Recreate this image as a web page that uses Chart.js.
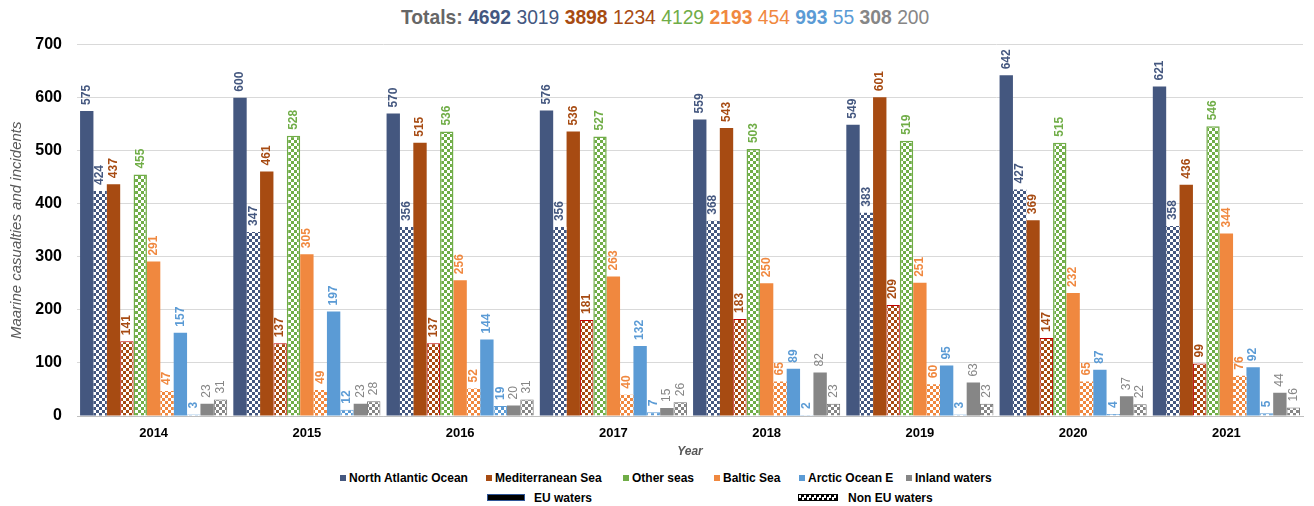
<!DOCTYPE html>
<html>
<head>
<meta charset="utf-8">
<script src="https://cdn.jsdelivr.net/npm/chart.js@4"></script>
<style>
  body { margin: 0; background: #fff; font-family: "Liberation Sans", Arial, sans-serif; }
  #wrap { position: relative; width: 1314px; height: 506px; overflow: hidden; }
  #title { position: absolute; left: 401px; top: 6px; font-size: 19.3px; line-height: 24px; white-space: nowrap; color: #666; }
  #title b { font-weight: bold; }
  #chart { position: absolute; left: 0; top: 20px; }
  .leg { position: absolute; font-size: 12px; font-weight: bold; color: #000; white-space: nowrap; line-height: 14px; }
  .sw { display: inline-block; width: 6px; height: 6px; margin-right: 3px; vertical-align: 1px; }
</style>
</head>
<body>
<div id="wrap">
  <div id="title"></div>
  <canvas id="chart" width="1314" height="442"></canvas>
  <div id="legend"></div>
</div>
<script>
// values
const years = ['2014', '2015', '2016', '2017', '2018', '2019', '2020', '2021'];
const naEU = [575, 600, 570, 576, 559, 549, 642, 621];
const naNon = [424, 347, 356, 356, 368, 383, 427, 358];
const medEU = [437, 461, 515, 536, 543, 601, 369, 436];
const medNon = [141, 137, 137, 181, 183, 209, 147, 99];
const otherSeas = [455, 528, 536, 527, 503, 519, 515, 546];
const balticEU = [291, 305, 256, 263, 250, 251, 232, 344];
const balticNon = [47, 49, 52, 40, 65, 60, 65, 76];
const arcticEU = [157, 197, 144, 132, 89, 95, 87, 92];
const arcticNon = [3, 12, 19, 7, 2, 3, 4, 5];
const inlandEU = [23, 23, 20, 15, 82, 63, 37, 44];
const inlandNon = [31, 28, 31, 26, 23, 23, 22, 16];
const totals = [4692, 3019, 3898, 1234, 4129, 2193, 454, 993, 55, 308, 200];
const totalsBold = [true, false, true, false, false, true, false, true, false, true, false];

const seaNames = ['North Atlantic Ocean', 'Mediterranean Sea', 'Other seas', 'Baltic Sea', 'Arctic Ocean E', 'Inland waters'];
const seaColors = ['#44577f', '#a74b12', '#70ad47', '#f0883f', '#5b9bd5', '#868686'];
const totalColors = ['#44577f', '#44577f', '#a74b12', '#a74b12', '#70ad47', '#f0883f', '#f0883f', '#5b9bd5', '#5b9bd5', '#868686', '#868686'];

function checker(color) {
    const c = document.createElement('canvas');
    c.width = 6; c.height = 6;
    const g = c.getContext('2d');
    g.fillStyle = '#fff';
    g.fillRect(0, 0, 6, 6);
    g.fillStyle = color;
    g.fillRect(0, 0, 3, 3);
    g.fillRect(3, 3, 3, 3);
    return g.createPattern(c, 'repeat');
}

// title
const titleEl = document.getElementById('title');
let html = '<b>Totals:</b>';
totals.forEach((t, i) => {
    const txt = totalsBold[i] ? '<b>' + t + '</b>' : t;
    html += ' <span style="color:' + totalColors[i] + '">' + txt + '</span>';
});
titleEl.innerHTML = html;

// legend
const legendEl = document.getElementById('legend');
const legX = [340, 486, 623, 714, 799, 906];
seaNames.forEach((n, i) => {
    const d = document.createElement('div');
    d.className = 'leg';
    d.style.left = legX[i] + 'px';
    d.style.top = '471px';
    d.innerHTML = '<span class="sw" style="background:' + seaColors[i] + '"></span>' + n;
    legendEl.appendChild(d);
});
const eu = document.createElement('div');
eu.className = 'leg';
eu.style.left = '487px'; eu.style.top = '491px';
eu.innerHTML = '<span style="display:inline-block;width:36px;height:5px;background:#000;border:1px solid #2f5597;margin-right:9px;vertical-align:1px"></span>EU waters';
legendEl.appendChild(eu);
const non = document.createElement('div');
non.className = 'leg';
non.style.left = '798px'; non.style.top = '491px';
non.innerHTML = '<span style="display:inline-block;width:38px;height:5px;border:1px solid #000;margin-right:10px;vertical-align:1px;background:repeating-conic-gradient(#000 0 25%, #fff 0 50%) 0 0/5px 5px"></span>Non EU waters';
legendEl.appendChild(non);

const ctx = document.getElementById('chart').getContext('2d');

function ds(label, data, color, pattern, border, bw, bold) {
    return {
        label: label,
        data: data,
        backgroundColor: pattern ? checker(color) : color,
        borderColor: border || color,
        borderWidth: bw || 0,
        labelColor: color,
        labelBold: bold
    };
}

const datasets = [
    ds('North Atlantic Ocean EU', naEU, seaColors[0], false, null, 0, true),
    ds('North Atlantic Ocean Non EU', naNon, seaColors[0], true, null, 0, true),
    ds('Mediterranean Sea EU', medEU, seaColors[1], false, null, 0, true),
    ds('Mediterranean Sea Non EU', medNon, seaColors[1], true, '#c00000', 1, true),
    ds('Other seas', otherSeas, seaColors[2], true, seaColors[2], 1.5, true),
    ds('Baltic Sea EU', balticEU, seaColors[3], false, null, 0, true),
    ds('Baltic Sea Non EU', balticNon, seaColors[3], true, null, 0, true),
    ds('Arctic Ocean E EU', arcticEU, seaColors[4], false, null, 0, true),
    ds('Arctic Ocean E Non EU', arcticNon, seaColors[4], true, seaColors[4], 1, true),
    ds('Inland waters EU', inlandEU, seaColors[5], false, null, 0, false),
    ds('Inland waters Non EU', inlandNon, seaColors[5], true, '#707070', 1, false)
];

const barLabels = {
    id: 'barLabels',
    afterDatasetsDraw(chart) {
        const c = chart.ctx;
        chart.data.datasets.forEach((d, i) => {
            const meta = chart.getDatasetMeta(i);
            c.save();
            c.fillStyle = d.labelColor;
            c.font = (d.labelBold ? 'bold ' : '') + '12px "Liberation Sans", Arial, sans-serif';
            c.textAlign = 'left';
            c.textBaseline = 'middle';
            meta.data.forEach((bar, j) => {
                c.save();
                c.translate(bar.x, bar.y - 6);
                c.rotate(-Math.PI / 2);
                c.fillText(String(d.data[j]), 0, 0);
                c.restore();
            });
            c.restore();
        });
    }
};

new Chart(ctx, {
    type: 'bar',
    data: { labels: years, datasets: datasets },
    options: {
        responsive: false,
        animation: false,
        devicePixelRatio: 1,
        layout: { padding: { left: 0, right: 11, top: 0, bottom: 0 } },
        plugins: { legend: { display: false }, tooltip: { enabled: false } },
        datasets: { bar: { categoryPercentage: 0.96, barPercentage: 1 } },
        scales: {
            x: {
                grid: { display: false, drawTicks: false },
                border: { color: '#bfbfbf' },
                ticks: { color: '#000', padding: 10, font: { family: '"Liberation Sans", Arial', size: 13, weight: 'bold' } },
                title: { display: true, text: 'Year', color: '#595959', padding: { top: 0, bottom: 3 },
                         font: { family: '"Liberation Sans", Arial', size: 12, style: 'italic', weight: 'bold' } },
                afterFit: s => { s.height = 46; }
            },
            y: {
                min: 0, max: 700,
                grid: { color: '#d9d9d9', drawTicks: false },
                border: { display: false },
                ticks: { stepSize: 100, color: '#000', padding: 15, font: { family: '"Liberation Sans", Arial', size: 16, weight: 'bold' } },
                title: { display: true, text: 'Maarine casualties and incidents', color: '#595959', padding: { top: 8, bottom: 0 },
                         font: { family: '"Liberation Sans", Arial', size: 15, style: 'italic' } },
                afterFit: s => { s.width = 77; }
            }
        }
    },
    plugins: [barLabels]
});
</script>
</body>
</html>
